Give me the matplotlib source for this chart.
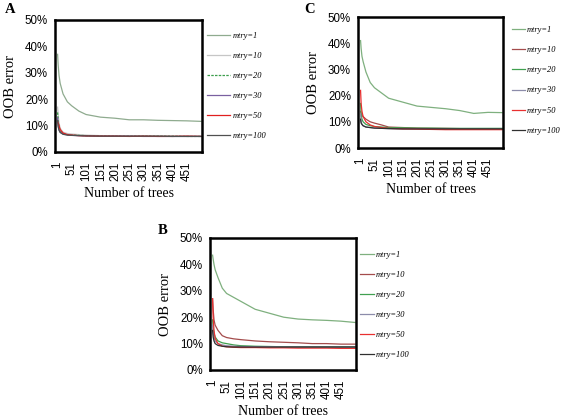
import matplotlib
matplotlib.use("Agg")
import matplotlib.pyplot as plt
from matplotlib.ticker import PercentFormatter

trees = [1, 3, 6, 10, 20, 35, 50, 75, 100, 150, 200, 250, 300, 350, 400, 450, 500]
labels = ["mtry=1", "mtry=10", "mtry=20", "mtry=30", "mtry=50", "mtry=100"]

a_vals = [
    [37, 33, 29, 26, 22, 19, 17.5, 15.5, 14.2, 13.2, 12.8, 12.2, 12.2, 12.0, 11.9, 11.8, 11.6],
    [17, 14, 11, 9, 7.5, 7, 6.8, 6.6, 6.4, 6.2, 6.1, 6.0, 6.0, 6.0, 6.0, 6.0, 6.0],
    [15, 12, 9.5, 8, 7, 6.6, 6.4, 6.3, 6.2, 6.1, 6.0, 6.0, 6.0, 6.0, 6.0, 5.9, 5.9],
    [13, 10, 8.5, 7.5, 6.8, 6.5, 6.3, 6.2, 6.1, 6.0, 6.0, 6.0, 5.9, 5.9, 5.9, 5.9, 5.9],
    [11.5, 11, 10, 8.5, 7.2, 6.6, 6.4, 6.2, 6.1, 6.0, 6.0, 5.9, 6.0, 5.9, 5.9, 6.0, 5.9],
    [12, 9.5, 8.2, 7.4, 6.7, 6.4, 6.3, 6.2, 6.1, 6.0, 6.0, 6.0, 6.0, 6.0, 5.9, 5.9, 5.9],
]
c_vals = [
    [41, 38, 35, 33, 29, 25, 23, 21, 19, 17.5, 16, 15.5, 15, 14.3, 13.2, 13.6, 13.5],
    [14, 13, 12.5, 12, 11, 10, 9.5, 8.8, 8, 7.8, 7.6, 7.5, 7.5, 7.4, 7.3, 7.3, 7.2],
    [17, 13, 11, 10, 9, 8.5, 8.2, 8, 7.8, 7.7, 7.6, 7.6, 7.5, 7.5, 7.5, 7.5, 7.5],
    [13, 10, 9, 8.5, 8, 7.8, 7.6, 7.5, 7.4, 7.3, 7.3, 7.2, 7.2, 7.2, 7.2, 7.2, 7.2],
    [22, 17, 14, 12, 10, 8.8, 8.2, 7.8, 7.5, 7.3, 7.2, 7.1, 7.0, 7.0, 7.0, 7.0, 7.0],
    [11, 9.5, 9, 8.5, 8, 7.8, 7.6, 7.5, 7.4, 7.3, 7.3, 7.3, 7.3, 7.3, 7.3, 7.3, 7.3],
]
b_vals = [
    [43.5, 42, 40, 38, 35, 31, 29, 27.5, 26, 23, 21.5, 20, 19.3, 19, 18.8, 18.5, 18],
    [27, 23, 19, 17, 15, 13, 12.3, 11.8, 11.5, 11, 10.7, 10.5, 10.3, 10, 10, 9.8, 9.8],
    [19, 16, 14, 12.5, 11, 10.3, 10, 9.5, 9.2, 9, 8.9, 8.8, 8.8, 8.8, 8.8, 8.8, 8.8],
    [17, 14, 12.5, 11, 10, 9.5, 9.2, 9, 8.9, 8.8, 8.8, 8.7, 8.7, 8.7, 8.7, 8.7, 8.7],
    [27, 20, 15, 12, 10, 9, 8.8, 8.6, 8.5, 8.5, 8.4, 8.4, 8.3, 8.3, 8.3, 8.2, 8.2],
    [15, 12.5, 11, 10, 9.3, 9, 8.8, 8.7, 8.7, 8.7, 8.7, 8.7, 8.7, 8.7, 8.7, 8.7, 8.7],
]

colors_a = ["#8fab8f", "#c6c6c6", "#3c9e4c", "#7a60a0", "#e02020", "#505050"]
colors_bc = ["#7fb07f", "#a44c4c", "#40a050", "#8c8caa", "#e83030", "#303030"]
styles_a = ["-", "-", (0, (2, 1)), "-", "-", "-"]
styles_bc = ["-"] * 6

xticks = list(range(1, 452, 50))
W, H = 576, 420

fig = plt.figure(figsize=(W / 100, H / 100), dpi=100)

def px_axes(left, top, right, bottom):
    return fig.add_axes([left / W, 1 - bottom / H, (right - left) / W, (bottom - top) / H])

def panel(ax, vals, colors, styles, letter, letter_pos, leg_x, leg_handle, leg_top):
    for v, c, ls, lab in zip(vals, colors, styles, labels):
        ax.plot(trees, [x / 100 for x in v], color=c, ls=ls, lw=0.9, label=lab)
    ax.set_xlim(-8, 503)
    ax.set_ylim(0, 0.5)
    ax.set_yticks([0, 0.1, 0.2, 0.3, 0.4, 0.5])
    ax.yaxis.set_major_formatter(PercentFormatter(1.0, decimals=0))
    ax.set_xticks(xticks)
    ax.set_xticklabels([str(t) for t in xticks], rotation=90)
    ax.tick_params(length=0, labelsize=8.3)
    ax.tick_params(axis="x", pad=7)
    ax.tick_params(axis="y", pad=5)
    for lab in ax.get_xticklabels() + ax.get_yticklabels():
        lab.set_family("Liberation Sans")
    for s in ax.spines.values():
        s.set_linewidth(1.8)
    ax.set_ylabel("OOB error", family="Liberation Serif", fontsize=10.5, labelpad=6)
    ax.set_xlabel("Number of trees", family="Liberation Serif", fontsize=10, labelpad=4)
    ax.legend(loc="upper left", bbox_to_anchor=(leg_x, leg_top), frameon=False,
              borderpad=0, borderaxespad=0, handlelength=leg_handle,
              handletextpad=0.25, labelspacing=1.45,
              prop={"family": "Liberation Serif", "style": "italic", "size": 6})
    ax.text(letter_pos[0], letter_pos[1], letter, transform=ax.transAxes,
            family="Liberation Serif", fontweight="bold", fontsize=10.5,
            ha="left", va="center")

axA = px_axes(55, 20, 202, 152)
panel(axA, a_vals, colors_a, styles_a, "A", (-0.34, 1.08), 1.035, 2.8, 0.91)

axC = px_axes(358, 17, 503, 148)
panel(axC, c_vals, colors_bc, styles_bc, "C", (-0.37, 1.06), 1.06, 1.6, 0.93)

axB = px_axes(210, 238, 356, 370)
panel(axB, b_vals, colors_bc, styles_bc, "B", (-0.36, 1.06), 1.03, 1.6, 0.905)

fig.savefig("out.png", dpi=100)
